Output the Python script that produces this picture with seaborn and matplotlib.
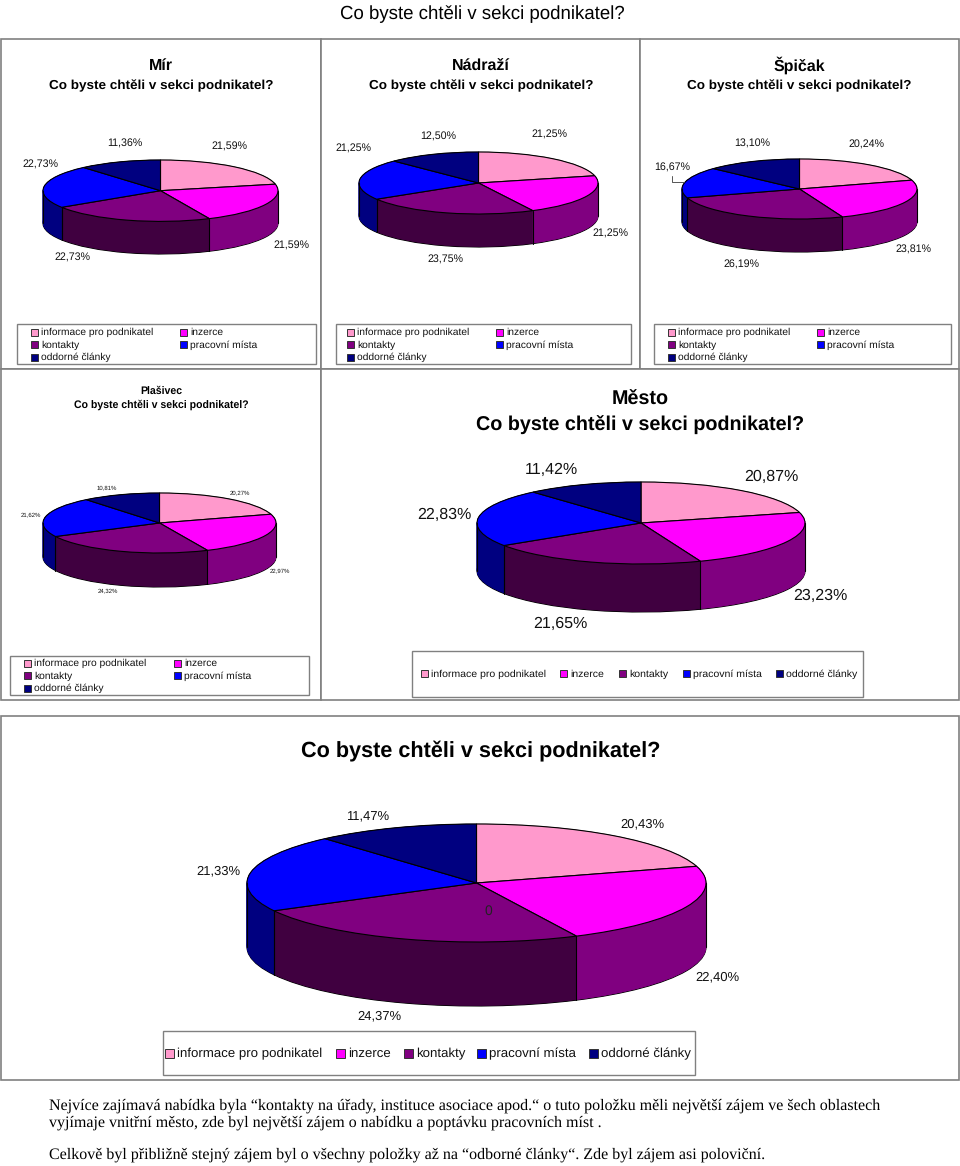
import numpy as np
import matplotlib
matplotlib.use('Agg')
import matplotlib.pyplot as plt
from matplotlib.patches import Rectangle
import seaborn as sns

categories = ['informace pro podnikatel', 'inzerce', 'kontakty', 'pracovní místa', 'oddorné články']
colors = ['#FF99CC', '#FF00FF', '#800080', '#0000FF', '#000080']
wall_colors = ['#804D66', '#800080', '#400040', '#000080', '#000040']

mir = [21.59, 21.59, 22.73, 22.73, 11.36]
nadrazi = [21.25, 21.25, 23.75, 21.25, 12.50]
spicak = [20.24, 23.81, 26.19, 16.67, 13.10]
plasivec = [20.27, 22.97, 24.32, 21.62, 10.81]
mesto = [20.87, 23.23, 21.65, 22.83, 11.42]
celkem = [20.43, 22.40, 24.37, 21.33, 11.47]

question = 'Co byste chtěli v sekci podnikatel?'

sns.set_style('white')
plt.rcParams['font.family'] = ['Liberation Sans', 'DejaVu Sans']
plt.rcParams['text.color'] = 'black'
plt.rcParams['text.hinting'] = 'no_hinting'

W, H = 960, 1166
fig = plt.figure(figsize=(W / 100, H / 100), dpi=100)

# whole page in pixels, for frames and text
page = fig.add_axes([0, 0, 1, 1], zorder=0)
page.set_xlim(0, W)
page.set_ylim(H, 0)
page.axis('off')

front = fig.add_axes([0, 0, 1, 1], zorder=5)
front.set_xlim(0, W)
front.set_ylim(H, 0)
front.axis('off')
front.patch.set_alpha(0)


def pie3d(values, left, right, top, center, wall_bottom):
    rx = (right - left) / 2
    ry = center - top
    depth = (wall_bottom - center - ry) / ry
    pad = 2
    ax = fig.add_axes([(left - pad) / W, 1 - (wall_bottom + pad) / H,
                       (right - left + 2 * pad) / W, (wall_bottom - top + 2 * pad) / H], zorder=2)
    # bottom rim first, then the wall built up, then the top face
    ax.pie(values, colors=wall_colors, startangle=90, counterclock=False, center=(0, -depth),
           wedgeprops={'edgecolor': 'black', 'linewidth': 0.8})
    for off in np.linspace(depth, 0, int(wall_bottom - center - ry) * 2)[1:]:
        wedges, _ = ax.pie(values, colors=wall_colors, startangle=90, counterclock=False, center=(0, -off))
        for w, c in zip(wedges, wall_colors):
            w.set_edgecolor(c)
            w.set_linewidth(0.4)
    angles = np.radians(np.cumsum(values) / np.sum(values) * 360)
    for a in angles:
        if np.cos(a) < 0:
            ax.plot([np.sin(a)] * 2, [np.cos(a), np.cos(a) - depth], color='black', lw=0.8)
    for side in (-1, 1):
        ax.plot([side, side], [0, -depth], color='black', lw=0.8)
    ax.pie(values, colors=colors, startangle=90, counterclock=False,
           wedgeprops={'edgecolor': 'black', 'linewidth': 0.8})
    ax.set_aspect('auto')
    ax.set_xlim(-1 - pad / rx, 1 + pad / rx)
    ax.set_ylim(-1 - depth - pad / ry, 1 + pad / ry)
    ax.patch.set_alpha(0)
    return ax


def legend_box(x0, y0, x1, y1, rows, size, swatch):
    page.add_patch(Rectangle((x0, y0), x1 - x0, y1 - y0, fc='white', ec='#808080', lw=1))
    for (x, y, i) in rows:
        s = swatch
        front.add_patch(Rectangle((x, y - s / 2), s, s, fc=colors[i], ec='#333333', lw=0.7))
        front.text(x + s + 3, y + 0.5, categories[i], fontsize=size, ha='left', va='center', color='#111111')


def grid_rows(x0, x1, y0, dy):
    return [(x0, y0, 0), (x1, y0, 1), (x0, y0 + dy, 2), (x1, y0 + dy, 3), (x0, y0 + 2 * dy, 4)]


def labels(items, size):
    for x, y, t in items:
        front.text(x, y, t, fontsize=size, ha='center', va='center', color='#111111')


# panel frames
for x0, y0, x1, y1 in [(1, 39, 321, 369), (321, 39, 640, 369), (640, 39, 959, 369),
                       (1, 369, 321, 700), (321, 369, 959, 700), (1, 716, 959, 1080)]:
    page.add_patch(Rectangle((x0, y0), x1 - x0, y1 - y0, fc='white', ec='#808080', lw=1.2))

page.text(482, 19, question, fontsize=13.45, ha='center', va='baseline')

# top row
for cx, name in [(161, 'Mír'), (481, 'Nádraží'), (799, 'Špičak')]:
    page.text(cx, 70.5, name, fontsize=11.5, fontweight='bold', ha='center', va='baseline')
    page.text(cx, 89, question, fontsize=9.7, fontweight='bold', ha='center', va='baseline')

pie3d(mir, 43, 278, 160, 190.7, 254)
pie3d(nadrazi, 359, 598, 152, 183, 247)
pie3d(spicak, 682, 917, 159, 189, 252)

labels([(40, 165, '22,73%'), (125, 144, '11,36%'), (229, 147, '21,59%'), (291, 246, '21,59%'), (72, 258, '22,73%'),
        (353, 149, '21,25%'), (438, 137, '12,50%'), (549, 135, '21,25%'), (610, 234, '21,25%'), (445, 260, '23,75%'),
        (672, 168, '16,67%'), (752, 144, '13,10%'), (866, 145, '20,24%'), (913, 250, '23,81%'), (741, 265, '26,19%')],
       7.7)
front.plot([672, 672, 684], [176, 182, 182], color='#555555', lw=0.7)

legend_box(17, 324, 316, 364, grid_rows(31, 180, 332, 12.5), 7.35, 7)
legend_box(336, 324, 631, 364, grid_rows(347, 496, 332, 12.5), 7.35, 7)
legend_box(654, 324, 951, 364, grid_rows(668, 817, 332, 12.5), 7.35, 7)

# middle row
page.text(161, 394, 'Plašivec', fontsize=7.6, fontweight='bold', ha='center', va='baseline')
page.text(161, 408, question, fontsize=7.6, fontweight='bold', ha='center', va='baseline')
pie3d(plasivec, 43, 276, 493, 523, 587)
labels([(107, 488, '10,81%'), (240, 493, '20,27%'), (31, 515, '21,62%'), (280, 571, '22,97%'), (108, 591, '24,32%')],
       4.3)
legend_box(10, 656, 309, 695, grid_rows(24, 174, 663, 12.5), 7.35, 7)

page.text(640, 405, 'Město', fontsize=14.2, fontweight='bold', ha='center', va='baseline')
page.text(640, 431, question, fontsize=14.2, fontweight='bold', ha='center', va='baseline')
pie3d(mesto, 477, 805, 482, 523, 612)
labels([(551, 470, '11,42%'), (771, 477, '20,87%'), (444, 515, '22,83%'), (820, 596, '23,23%'), (560, 624, '21,65%')],
       11.5)
legend_box(412, 651, 863, 697, [(421, 673.5, 0), (560, 673.5, 1), (619, 673.5, 2), (683, 673.5, 3), (776, 673.5, 4)],
           7.55, 7)

# total
page.text(481, 756, question, fontsize=15.55, fontweight='bold', ha='center', va='baseline')
pie3d(celkem, 247, 706, 824, 883, 1006)
labels([(368, 816, '11,47%'), (642, 824, '20,43%'), (218, 871, '21,33%'), (717, 977, '22,40%'), (379, 1016, '24,37%')],
       9.4)
front.text(488, 911, '0', fontsize=10, ha='center', va='center', color='#222222')
legend_box(163, 1031, 695, 1075, [(165, 1053, 0), (336, 1053, 1), (404, 1053, 2), (477, 1053, 3), (589, 1053, 4)],
           9.55, 9)

# note under the charts
note = [(1105, 'Nejvíce zajímavá nabídka byla “kontakty na úřady, instituce asociace apod.“ o tuto položku měli největší zájem ve šech oblastech'),
        (1122, 'vyjímaje vnitřní město, zde byl největší zájem o nabídku a poptávku pracovních míst .'),
        (1154, 'Celkově byl přibližně stejný zájem byl o všechny položky až na “odborné články“. Zde byl zájem asi poloviční.')]
for y, t in note:
    page.text(49, y + 1, t, fontsize=11.57, family='Liberation Serif', ha='left', va='center')

fig.savefig('out.png', dpi=100)
